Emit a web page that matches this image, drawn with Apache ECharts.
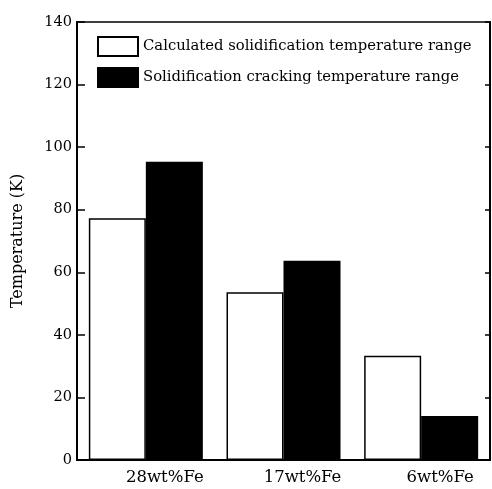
<!DOCTYPE html>
<html><head><meta charset="utf-8">
<script src="https://cdn.jsdelivr.net/npm/echarts@6/dist/echarts.min.js"></script>
<style>html,body{margin:0;padding:0;background:#fff}#c{width:492px;height:489px}</style>
</head><body><div id="c"></div>
<script>
const categories = ['28wt%Fe', '17wt%Fe', '6wt%Fe'];
const calculatedRange = [77.3, 53.6, 33.3];
const crackingRange = [95.3, 63.7, 14.1];
const seriesNames = ['Calculated solidification temperature range', 'Solidification cracking temperature range'];
const yTicks = [0, 20, 40, 60, 80, 100, 120, 140];

const font = 'DejaVu Serif';
const chart = echarts.init(document.getElementById('c'), null, {renderer: 'canvas'});
chart.setOption({
  animation: false,
  backgroundColor: '#fff',
  textStyle: {fontFamily: font, color: '#000'},
  grid: {left: 77, right: 2, top: 22, bottom: 29, outerBoundsMode: 'none', containLabel: false,
    show: true, borderColor: '#000', borderWidth: 1.5, backgroundColor: 'transparent'},
  legend: {
    orient: 'vertical', left: 92, top: 31, itemWidth: 40, itemHeight: 19, itemGap: 10,
    icon: 'rect',
    textStyle: {fontFamily: font, fontSize: 14.8, color: '#000'},
    data: seriesNames
  },
  xAxis: {
    type: 'category', data: categories,
    axisLine: {lineStyle: {color: '#000', width: 2}},
    axisTick: {inside: true, length: 7, lineStyle: {color: '#000', width: 1.5}},
    axisLabel: {fontFamily: font, fontSize: 16.5, color: '#000', margin: 9, padding: [0, 0, 0, 38]}
  },
  yAxis: [{
    type: 'value', min: yTicks[0], max: yTicks[yTicks.length - 1], interval: 20,
    name: 'Temperature (K)', nameLocation: 'middle', nameGap: 51,
    nameTextStyle: {fontFamily: font, fontSize: 16, color: '#000'},
    axisLine: {show: true, lineStyle: {color: '#000', width: 2}},
    axisTick: {show: true, inside: true, length: 8, lineStyle: {color: '#000', width: 1.5}},
    axisLabel: {fontFamily: font, fontSize: 14.5, color: '#000', margin: 5},
    splitLine: {show: false}
  }, {
    type: 'value', position: 'right', min: yTicks[0], max: yTicks[yTicks.length - 1], interval: 20,
    axisLine: {show: true, lineStyle: {color: '#000', width: 2}},
    axisTick: {show: true, inside: true, length: 5, lineStyle: {color: '#000', width: 1.5}},
    axisLabel: {show: false},
    splitLine: {show: false}
  }],
  series: [{
    name: seriesNames[0], type: 'bar', data: calculatedRange, barWidth: 57, barGap: '0%',
    itemStyle: {color: '#fff', borderColor: '#000', borderWidth: 1.5}
  }, {
    name: seriesNames[1], type: 'bar', data: crackingRange, barWidth: 57,
    itemStyle: {color: '#000', borderColor: '#000', borderWidth: 1.5}
  }]
});
</script></body></html>
